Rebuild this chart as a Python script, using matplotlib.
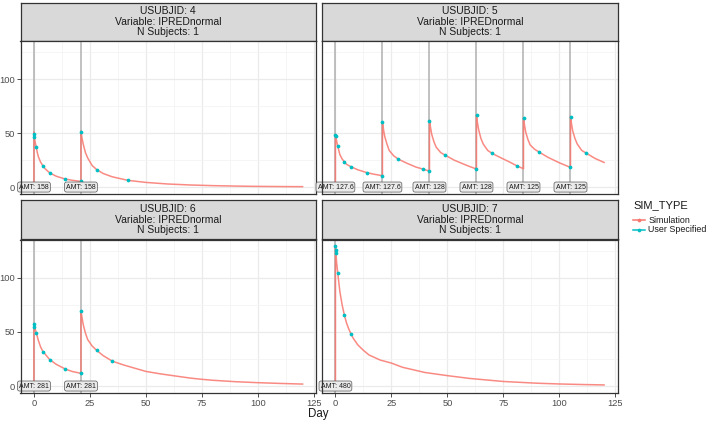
import matplotlib
matplotlib.use("Agg")
import matplotlib.pyplot as plt
from matplotlib.lines import Line2D
from matplotlib.ticker import MultipleLocator

plt.rcParams['font.family'] = ['Liberation Sans', 'DejaVu Sans']

# ---------------- data ----------------
subjects = [4, 5, 6, 7]
variable_name = "IPREDnormal"
n_subjects = [1, 1, 1, 1]

# Subject 4
sim_day_4 = [0, 0.01, 0.25, 0.5, 1, 1.5, 2, 3, 4, 5, 7, 10, 14, 17, 21, 21.01, 21.5, 22, 23, 24, 26, 28, 31, 35, 42,
             50, 60, 70, 80, 90, 100, 110, 120]
sim_conc_4 = [0, 51, 46, 42, 37.5, 32, 28, 23, 19.7, 17, 13.2, 10, 7.4, 6.3, 5.2, 52, 45, 40, 32, 27, 20, 16.2, 12.5,
              9.5, 6.2, 4.3, 2.8, 1.9, 1.3, 0.9, 0.6, 0.45, 0.35]
obs_day_4 = [0.02, 0.25, 1, 4, 7, 14, 21, 21.02, 28, 42]
obs_conc_4 = [49.1, 46.6, 36.7, 19.7, 13.0, 7.4, 5.2, 50.6, 16.0, 6.2]
dose_day_4 = [0, 21]
dose_amt_4 = ["158", "158"]

# Subject 5
sim_day_5 = [0, 0.01, 0.5, 1, 2, 3, 4, 5, 7, 10, 14, 17, 21,
             21.01, 21.5, 22, 23, 24, 26, 28, 32, 36, 39, 42,
             42.01, 42.5, 43, 44, 45, 47, 49, 53, 57, 60, 63,
             63.01, 63.5, 64, 65, 66, 68, 70, 74, 78, 81, 84,
             84.01, 84.5, 85, 86, 87, 89, 91, 95, 100, 105,
             105.01, 105.5, 106, 107, 108, 110, 112, 116, 120]
sim_conc_5 = [0, 49, 43, 38, 30, 26, 23.4, 21, 18.8, 16, 13.4, 12, 10.5,
              60, 53, 47, 40, 34, 29, 26, 22, 18.5, 16.7, 14.8,
              62, 55, 49, 42, 37, 32, 29.6, 25, 21.5, 19, 16.7,
              66.5, 59, 53, 45, 40, 34, 31.2, 27, 23, 19.7, 17,
              64, 57, 51, 44, 39, 35, 32.4, 27.5, 22.5, 18.2,
              65.5, 58, 52, 45, 40, 34, 31.5, 26.5, 22.8]
obs_day_5 = [0.02, 0.1, 1, 4, 7, 14, 21, 21.02, 28, 39, 42, 42.02, 49, 63, 63.02, 70, 81, 84.02, 91,
             105, 105.02, 112]
obs_conc_5 = [48.1, 47.0, 38.3, 23.4, 18.8, 13.3, 10.5, 59.9, 25.9, 16.7, 14.8, 61.4, 29.6, 16.7, 66.4,
              31.2, 19.7, 63.9, 32.4, 18.2, 65.1, 31.5]
dose_day_5 = [0, 21, 42, 63, 84, 105]
dose_amt_5 = ["127.6", "127.6", "128", "128", "125", "125"]

# Subject 6
sim_day_6 = [0, 0.01, 0.5, 1, 2, 3, 4, 5, 7, 10, 14, 17, 21,
             21.01, 21.5, 22, 23, 24, 26, 28, 31, 35, 40, 45, 50, 56, 60, 70, 75, 80, 90, 100, 110, 120]
sim_conc_6 = [0, 58, 53, 49.5, 42, 36, 32, 29.5, 24.5, 20, 15.7, 13.5, 11.7,
              69.5, 63, 57, 49, 43, 37, 33, 28, 23, 19.5, 16.5, 13.5, 11.4, 10.2, 7.3, 6.2, 5.3, 4.0, 3.1, 2.4, 1.8]
obs_day_6 = [0.02, 0.25, 1, 4, 7, 14, 21, 21.02, 28, 35]
obs_conc_6 = [57.4, 54.9, 49.4, 31.2, 23.8, 15.7, 11.7, 69.4, 33.0, 22.8]
dose_day_6 = [0, 21]
dose_amt_6 = ["281", "281"]

# Subject 7
sim_day_7 = [0, 0.01, 0.5, 1, 2, 3, 4, 5, 6, 7, 8, 10, 12.5, 15, 20, 25, 30, 40, 50, 60, 75, 90, 100, 110, 120]
sim_conc_7 = [0, 130, 115, 105, 87, 75, 65.4, 58, 52.5, 48, 44, 38, 33, 28.7, 24, 21.2, 17.3, 12.5, 9.6, 7,
              4.2, 2.6, 1.9, 1.4, 1.0]
obs_day_7 = [0.02, 0.1, 0.25, 1, 4, 7]
obs_conc_7 = [129, 126, 122.9, 104.9, 65.4, 48.1]
dose_day_7 = [0]
dose_amt_7 = ["480"]

x_ticks = [0, 25, 50, 75, 100, 125]
y_ticks = [0, 50, 100]
legend_labels = ["Simulation", "User Specified"]

# ---------------- styling ----------------
SIM_COL = "#F8766D"
OBS_COL = "#00BFC4"
BORDER = "#333333"
GRID = "#EBEBEB"
TXT = "#4D4D4D"

W, H = 709, 422
fig = plt.figure(figsize=(W / 100, H / 100), dpi=100)


def fx(px):
    return px / W


def fy(px):
    return 1 - px / H


panels = [
    dict(sub=4, sim=(sim_day_4, sim_conc_4), obs=(obs_day_4, obs_conc_4), dose=(dose_day_4, dose_amt_4),
         x=(20.5, 316), strip=(2.5, 41), plot=(41, 194), left=True, bottom=False),
    dict(sub=5, sim=(sim_day_5, sim_conc_5), obs=(obs_day_5, obs_conc_5), dose=(dose_day_5, dose_amt_5),
         x=(322, 617.5), strip=(2.5, 41), plot=(41, 194), left=False, bottom=False),
    dict(sub=6, sim=(sim_day_6, sim_conc_6), obs=(obs_day_6, obs_conc_6), dose=(dose_day_6, dose_amt_6),
         x=(20.5, 316), strip=(200, 239.5), plot=(239.5, 393), left=True, bottom=True),
    dict(sub=7, sim=(sim_day_7, sim_conc_7), obs=(obs_day_7, obs_conc_7), dose=(dose_day_7, dose_amt_7),
         x=(322, 617.5), strip=(200, 239.5), plot=(239.5, 393), left=False, bottom=True),
]

for i, p in enumerate(panels):
    x0, x1 = p["x"]
    s0, s1 = p["strip"]
    p0, p1 = p["plot"]
    # strip
    sax = fig.add_axes([fx(x0), fy(s1), fx(x1 - x0), (s1 - s0) / H])
    sax.set_facecolor("#D9D9D9")
    sax.set_xticks([]); sax.set_yticks([])
    for sp in sax.spines.values():
        sp.set_color(BORDER); sp.set_linewidth(0.9)
    sax.text(0.5, 0.5, f"USUBJID: {p['sub']}\nVariable: {variable_name}\nN Subjects: {n_subjects[i]}",
             ha="center", va="center", fontsize=7.5, color="#1A1A1A", linespacing=1.05,
             transform=sax.transAxes)
    # plot
    ax = fig.add_axes([fx(x0), fy(p1), fx(x1 - x0), (p1 - p0) / H])
    ax.set_xlim(-6, 126)
    ax.set_ylim(-6.45, 135.45)
    ax.set_xticks(x_ticks)
    ax.set_yticks(y_ticks)
    ax.xaxis.set_minor_locator(MultipleLocator(12.5))
    ax.yaxis.set_minor_locator(MultipleLocator(25))
    ax.grid(True, which="major", color=GRID, linewidth=0.9, zorder=0)
    ax.grid(True, which="minor", color="#F3F3F3", linewidth=0.55, zorder=0)
    ax.set_axisbelow(True)
    for sp in ax.spines.values():
        sp.set_color(BORDER); sp.set_linewidth(0.9); sp.set_zorder(10)
    ax.tick_params(which="minor", length=0)
    ax.tick_params(which="major", length=2.8, width=0.6, color=BORDER, labelcolor=TXT, labelsize=6.7, pad=1.3)
    if not p["left"]:
        ax.tick_params(axis="y", which="major", length=0, labelleft=False)
    if not p["bottom"]:
        ax.tick_params(axis="x", which="major", length=0, labelbottom=False)

    dd, da = p["dose"]
    for d in dd:
        ax.axvline(d, color="#B0B0B0", linewidth=1.1, zorder=2)
    ax.plot(p["sim"][0], p["sim"][1], color=SIM_COL, linewidth=1.1, alpha=0.85, zorder=3,
            solid_joinstyle="round")
    ax.plot(p["obs"][0], p["obs"][1], linestyle="none", marker="o", markersize=2.7, color=OBS_COL,
            markeredgewidth=0, zorder=4)
    for d, a in zip(dd, da):
        ax.text(d, 0, f"AMT: {a}", ha="center", va="center", fontsize=5.0, color="#1A1A1A", zorder=6,
                bbox=dict(boxstyle="round,pad=0.22,rounding_size=0.3", fc="#EBEBEB", ec="#555555", lw=0.5))

# x-axis title
fig.text(fx(318), fy(414.5), "Day", ha="center", va="center", fontsize=8.3, color="#1A1A1A")

# legend
fig.text(fx(633), fy(205), "SIM_TYPE", ha="left", va="center", fontsize=8.0, color="#1A1A1A")
for lab, col, yy in zip(legend_labels, [SIM_COL, OBS_COL], [220, 230]):
    fig.add_artist(Line2D([fx(633), fx(645)], [fy(yy), fy(yy)], color=col, linewidth=1.1))
    fig.add_artist(Line2D([fx(639)], [fy(yy)], marker="o", markersize=2.7, color=col, markeredgewidth=0))
    fig.text(fx(648.5), fy(yy), lab, ha="left", va="center", fontsize=6.4, color="#1A1A1A")

fig.savefig("out.png", dpi=100)
